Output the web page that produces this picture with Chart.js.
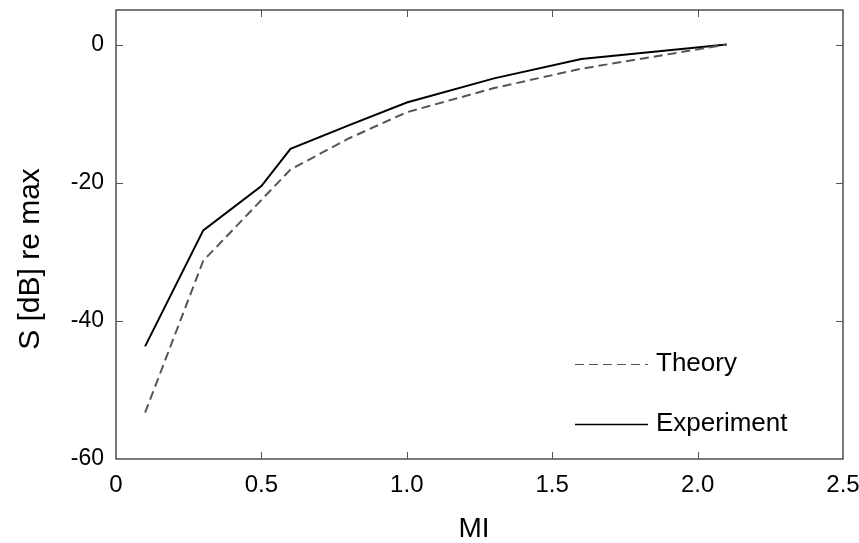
<!DOCTYPE html>
<html>
<head>
<meta charset="utf-8">
<title>S re max vs MI</title>
<script src="https://cdn.jsdelivr.net/npm/chart.js@4.4.0/dist/chart.umd.min.js"></script>
<style>
  html, body { margin: 0; padding: 0; background: #fff; }
  #chart { display: block; }
</style>
</head>
<body>
<canvas id="chart" width="859" height="543"></canvas>
<script>
// data
const miValues = [0.1, 0.3, 0.5, 0.6, 0.8, 1.0, 1.3, 1.6, 2.1];
const theory = [-53.3, -31.3, -22.5, -18.1, -13.6, -9.8, -6.3, -3.5, 0];
const experiment = [-43.7, -26.9, -20.5, -15.1, -11.7, -8.4, -4.9, -2.1, 0];

const xTickLabels = ["0", "0.5", "1.0", "1.5", "2.0", "2.5"];
const xTickValues = [0, 0.5, 1.0, 1.5, 2.0, 2.5];
const yTickValues = [0, -20, -40, -60];

const seriesNames = ["Theory", "Experiment"];
const FONT = "'Liberation Sans', Arial, sans-serif";

function points(ys) {
  return miValues.map((x, i) => ({ x: x, y: ys[i] }));
}

// frame with inward ticks, axis titles and the legend
const decorPlugin = {
  id: "decor",
  afterDraw(chart) {
    const ctx = chart.ctx;
    const a = chart.chartArea;
    const xs = chart.scales.x, ys = chart.scales.y;
    const tl = 7;

    ctx.save();
    ctx.strokeStyle = "#333";
    ctx.lineWidth = 1.3;
    ctx.strokeRect(a.left, a.top, a.right - a.left, a.bottom - a.top);

    ctx.strokeStyle = "#555";
    ctx.lineWidth = 1;
    ctx.beginPath();
    xTickValues.slice(1, -1).forEach(v => {
      const px = Math.round(xs.getPixelForValue(v)) + 0.5;
      ctx.moveTo(px, a.bottom); ctx.lineTo(px, a.bottom - tl);
      ctx.moveTo(px, a.top); ctx.lineTo(px, a.top + tl);
    });
    yTickValues.slice(0, -1).forEach(v => {
      const py = Math.round(ys.getPixelForValue(v)) + 0.5;
      ctx.moveTo(a.left, py); ctx.lineTo(a.left + tl, py);
      ctx.moveTo(a.right, py); ctx.lineTo(a.right - tl, py);
    });
    ctx.stroke();

    // axis titles
    ctx.fillStyle = "#000";
    ctx.textAlign = "center";
    ctx.textBaseline = "middle";
    ctx.font = "28px " + FONT;
    ctx.fillText("MI", 474, 529);
    ctx.save();
    ctx.translate(31, 259);
    ctx.rotate(-Math.PI / 2);
    ctx.font = "30px " + FONT;
    ctx.fillText("S [dB] re max", 0, 0);
    ctx.restore();

    // legend
    const rows = [364, 424];
    chart.data.datasets.forEach((ds, i) => {
      ctx.beginPath();
      ctx.strokeStyle = ds.borderColor;
      ctx.lineWidth = i === 0 ? 1.2 : 1.6;
      ctx.setLineDash(ds.borderDash || []);
      ctx.moveTo(575, rows[i] + 0.5);
      ctx.lineTo(648, rows[i] + 0.5);
      ctx.stroke();
      ctx.setLineDash([]);
      ctx.textAlign = "left";
      ctx.font = "26px " + FONT;
      ctx.fillStyle = "#000";
      ctx.fillText(ds.label, 656, rows[i]);
    });
    ctx.restore();
  }
};

const chart = new Chart(document.getElementById("chart"), {
  type: "line",
  data: {
    datasets: [
      {
        label: seriesNames[0],
        data: points(theory),
        borderColor: "#555",
        borderWidth: 2,
        borderDash: [9, 5],
        pointRadius: 0,
        tension: 0,
        fill: false
      },
      {
        label: seriesNames[1],
        data: points(experiment),
        borderColor: "#000",
        borderWidth: 2,
        pointRadius: 0,
        tension: 0,
        fill: false
      }
    ]
  },
  options: {
    responsive: false,
    animation: false,
    layout: { padding: { top: 10, right: 16, left: 0, bottom: 0 } },
    plugins: {
      legend: { display: false },
      tooltip: { enabled: false }
    },
    scales: {
      x: {
        type: "linear",
        min: 0,
        max: 2.5,
        grid: { display: false, drawTicks: false },
        border: { display: false },
        afterBuildTicks: s => { s.ticks = xTickValues.map(v => ({ value: v })); },
        afterFit: s => { s.height = 84; s.paddingLeft = 0; s.paddingRight = 0; },
        ticks: {
          padding: 12,
          color: "#000",
          font: { family: FONT, size: 24 },
          maxRotation: 0,
          callback: (v) => xTickLabels[xTickValues.indexOf(v)]
        }
      },
      y: {
        min: -60,
        max: 5,
        grid: { display: false, drawTicks: false },
        border: { display: false },
        afterBuildTicks: s => { s.ticks = yTickValues.map(v => ({ value: v })); },
        afterFit: s => { s.width = 116; s.paddingTop = 0; s.paddingBottom = 0; },
        ticks: {
          padding: 12,
          color: "#000",
          font: { family: FONT, size: 23 },
          callback: (v) => String(v)
        }
      }
    }
  },
  plugins: [decorPlugin]
});
</script>
</body>
</html>
